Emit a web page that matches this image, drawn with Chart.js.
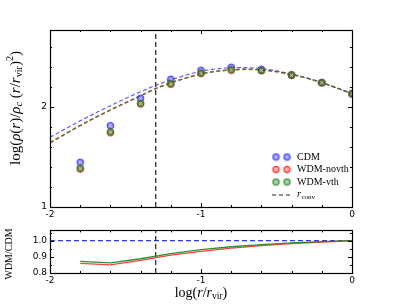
<!DOCTYPE html>
<html>
<head>
<meta charset="utf-8">
<script src="https://cdn.jsdelivr.net/npm/chart.js@4/dist/chart.umd.min.js"></script>
<style>
  html, body { margin: 0; padding: 0; background: #fff; }
  #wrap { position: relative; width: 405px; height: 304px; }
  #top { position: absolute; left: 0; top: 0; }
  #bot { position: absolute; left: 0; top: 222px; }
</style>
</head>
<body>
<div id="wrap">
  <canvas id="top" width="405" height="222"></canvas>
  <canvas id="bot" width="405" height="82"></canvas>
</div>
<script>
// data
var radii = [-1.8, -1.6, -1.4, -1.2, -1.0, -0.8, -0.6, -0.4, -0.2, 0.0];
var cdm_pts   = [1.447, 1.813, 2.087, 2.277, 2.367, 2.397, 2.377, 2.323, 2.243, 2.133];
var novth_pts = [1.380, 1.743, 2.030, 2.228, 2.335, 2.368, 2.362, 2.316, 2.242, 2.132];
var vth_pts   = [1.388, 1.750, 2.036, 2.233, 2.339, 2.372, 2.365, 2.318, 2.243, 2.133];

var fit_r = [-2.0, -1.9, -1.8, -1.7, -1.6, -1.5, -1.4, -1.3, -1.2, -1.1, -1.0,
             -0.9, -0.8, -0.7, -0.6, -0.5, -0.4, -0.3, -0.2, -0.1, 0.0];
var cdm_fit = [1.697, 1.780, 1.862, 1.940, 2.013, 2.085, 2.153, 2.218, 2.272, 2.320, 2.358,
               2.382, 2.393, 2.395, 2.385, 2.362, 2.330, 2.290, 2.245, 2.190, 2.133];
var wdm_fit = [1.643, 1.730, 1.815, 1.895, 1.970, 2.042, 2.113, 2.185, 2.243, 2.290, 2.332,
               2.358, 2.372, 2.378, 2.373, 2.354, 2.326, 2.290, 2.245, 2.190, 2.133];

var ratio_vth   = [0.872, 0.863, 0.888, 0.920, 0.944, 0.962, 0.975, 0.986, 0.994, 1.000];
var ratio_novth = [0.859, 0.850, 0.878, 0.910, 0.934, 0.954, 0.969, 0.981, 0.991, 1.000];
var ratio_ref = 1.0;

var r_conv = -1.3;
var x_ticks = [-2, -1, 0];
var top_y_ticks = [1, 2];
var bot_y_ticks = [0.8, 0.9, 1.0];

var legend_labels = ['CDM', 'WDM-novth', 'WDM-vth'];
var col_blue = 'rgba(40,40,255,0.75)';
var col_red = 'rgba(255,30,30,0.75)';
var col_green = 'rgba(30,130,30,0.85)';

var tickFont = { family: 'DejaVu Sans', size: 9 };
var serif = 'Liberation Serif';

function marker(color) {
  var c = document.createElement('canvas');
  c.width = 9; c.height = 9;
  var g = c.getContext('2d');
  g.beginPath();
  g.arc(4.5, 4.5, 3.3, 0, Math.PI * 2);
  g.fillStyle = color;
  g.globalAlpha = 0.55;
  g.fill();
  g.globalAlpha = 0.9;
  g.lineWidth = 1;
  g.strokeStyle = color;
  g.stroke();
  g.globalAlpha = 1;
  g.beginPath();
  g.moveTo(2.9, 2.9); g.lineTo(6.1, 6.1);
  g.moveTo(6.1, 2.9); g.lineTo(2.9, 6.1);
  g.strokeStyle = 'rgba(255,255,255,0.6)';
  g.lineWidth = 0.9;
  g.stroke();
  return c;
}
var mk_blue = marker('rgb(40,40,255)');
var mk_red = marker('rgb(255,30,30)');
var mk_green = marker('rgb(30,130,30)');

function pts(xs, ys) {
  return xs.map(function (x, i) { return { x: x, y: ys[i] }; });
}

// rich text: segments [text, style] ; style n, i, sub, isub, sup
function drawRich(ctx, segs, cx, cy, size, rot) {
  function font(s) {
    var sz = (s == 'sub' || s == 'isub' || s == 'sup') ? size * 0.68 : size;
    var it = (s == 'i' || s == 'isub') ? 'italic ' : '';
    return it + sz + 'px "' + serif + '"';
  }
  var w = 0;
  segs.forEach(function (sg) { ctx.font = font(sg[1]); w += ctx.measureText(sg[0]).width; });
  ctx.save();
  ctx.translate(cx, cy);
  if (rot) ctx.rotate(-Math.PI / 2);
  ctx.fillStyle = '#000';
  ctx.textBaseline = 'middle';
  ctx.textAlign = 'left';
  var x = -w / 2;
  segs.forEach(function (sg) {
    ctx.font = font(sg[1]);
    var dy = 0;
    if (sg[1] == 'sub' || sg[1] == 'isub') dy = size * 0.25;
    if (sg[1] == 'sup') dy = -size * 0.38;
    ctx.fillText(sg[0], x, dy);
    x += ctx.measureText(sg[0]).width;
  });
  ctx.restore();
}

function framePlugin(cfg) {
  return {
    id: 'frame',
    afterDatasetsDraw: function (chart) {
      var ctx = chart.ctx, a = chart.chartArea;
      var xs = chart.scales.x, ys = chart.scales.y;
      ctx.save();
      ctx.strokeStyle = '#000';
      ctx.lineWidth = 1;
      ctx.beginPath();
      cfg.xMajor.forEach(function (v) {
        var p = Math.round(xs.getPixelForValue(v)) + 0.5;
        ctx.moveTo(p, a.bottom); ctx.lineTo(p, a.bottom - 4);
        ctx.moveTo(p, a.top); ctx.lineTo(p, a.top + 4);
      });
      cfg.xMinor.forEach(function (v) {
        var p = Math.round(xs.getPixelForValue(v)) + 0.5;
        ctx.moveTo(p, a.bottom); ctx.lineTo(p, a.bottom - 2);
        ctx.moveTo(p, a.top); ctx.lineTo(p, a.top + 2);
      });
      cfg.yMajor.forEach(function (v) {
        var p = Math.round(ys.getPixelForValue(v)) + 0.5;
        ctx.moveTo(a.left, p); ctx.lineTo(a.left + 4, p);
        ctx.moveTo(a.right, p); ctx.lineTo(a.right - 4, p);
      });
      cfg.yMinor.forEach(function (v) {
        var p = Math.round(ys.getPixelForValue(v)) + 0.5;
        ctx.moveTo(a.left, p); ctx.lineTo(a.left + 2, p);
        ctx.moveTo(a.right, p); ctx.lineTo(a.right - 2, p);
      });
      ctx.stroke();
      ctx.lineWidth = 1.2;
      ctx.strokeRect(Math.round(a.left) + 0.5, Math.round(a.top) + 0.5,
        Math.round(a.right - a.left), Math.round(a.bottom - a.top));
      ctx.restore();
      if (cfg.draw) cfg.draw(chart);
    }
  };
}

var xMinor = [-1.8, -1.6, -1.4, -1.2, -0.8, -0.6, -0.4, -0.2];

// ---------- top panel ----------
// chart.js paints the first dataset on top, so the list runs top-most first
var topChart = new Chart(document.getElementById('top'), {
  type: 'scatter',
  data: {
    datasets: [
      { data: pts(radii, vth_pts), pointStyle: mk_green, pointRadius: 4.5 },
      { data: pts(radii, novth_pts), pointStyle: mk_red, pointRadius: 4.5 },
      { data: pts(radii, cdm_pts), pointStyle: mk_blue, pointRadius: 4.5 },
      { data: pts([r_conv, r_conv], [1, 2.77]), showLine: true, borderColor: '#222', borderWidth: 1.2,
        borderDash: [5, 3], pointRadius: 0 },
      { data: pts(fit_r, wdm_fit), showLine: true, borderColor: col_green, borderWidth: 1.2,
        borderDash: [4, 2.5], pointRadius: 0 },
      { data: pts(fit_r, wdm_fit), showLine: true, borderColor: col_red, borderWidth: 1.6,
        borderDash: [4, 2.5], pointRadius: 0 },
      { data: pts(fit_r, cdm_fit), showLine: true, borderColor: col_blue, borderWidth: 1.2,
        borderDash: [4, 2.5], pointRadius: 0 }
    ]
  },
  options: {
    responsive: false,
    animation: false,
    layout: { padding: { left: 0, top: 30, right: 53, bottom: 0 } },
    plugins: { legend: { display: false }, tooltip: { enabled: false } },
    scales: {
      x: {
        type: 'linear', min: -2, max: 0,
        grid: { display: false, drawTicks: false }, border: { display: false },
        afterBuildTicks: function (s) { s.ticks = x_ticks.map(function (v) { return { value: v }; }); },
        ticks: { font: tickFont, color: '#000', padding: 2, maxRotation: 0,
                 callback: function (v) { return String(v); } },
        afterFit: function (s) { s.height = 15; }
      },
      y: {
        min: 1, max: 2.77,
        grid: { display: false, drawTicks: false }, border: { display: false },
        afterBuildTicks: function (s) { s.ticks = top_y_ticks.map(function (v) { return { value: v }; }); },
        ticks: { font: tickFont, color: '#000', padding: 3,
                 callback: function (v) { return String(v); } },
        afterFit: function (s) { s.width = 50; }
      }
    }
  },
  plugins: [framePlugin({
    xMajor: x_ticks, xMinor: xMinor,
    yMajor: top_y_ticks, yMinor: [1.2, 1.4, 1.6, 1.8, 2.2, 2.4, 2.6],
    draw: function (chart) {
      var ctx = chart.ctx;
      drawRich(ctx, [['log(', 'n'], ['ρ', 'i'], ['(', 'n'], ['r', 'i'], [')/', 'n'], ['ρ', 'i'], ['c', 'isub'],
        [' (', 'n'], ['r', 'i'], ['/', 'n'], ['r', 'i'], ['vir', 'sub'], [')', 'n'], ['2', 'sup'], [')', 'n']],
        16, 108, 15, true);
      // legend
      var marks = [mk_blue, mk_red, mk_green];
      var ly = [157, 169.5, 182];
      ctx.save();
      for (var i = 0; i < legend_labels.length; i++) {
        ctx.drawImage(marks[i], 276 - 4.5, ly[i] - 4.5);
        ctx.drawImage(marks[i], 287 - 4.5, ly[i] - 4.5);
        ctx.font = '10px "' + serif + '"';
        ctx.fillStyle = '#000';
        ctx.textBaseline = 'middle';
        ctx.fillText(legend_labels[i], 297, ly[i]);
      }
      ctx.strokeStyle = '#222';
      ctx.lineWidth = 1.2;
      ctx.setLineDash([4, 3]);
      ctx.beginPath();
      ctx.moveTo(272, 195); ctx.lineTo(291, 195);
      ctx.stroke();
      ctx.restore();
      ctx.save();
      ctx.textBaseline = 'middle';
      ctx.fillStyle = '#000';
      ctx.font = 'italic 10px "' + serif + '"';
      ctx.fillText('r', 297, 194);
      ctx.font = '7px "' + serif + '"';
      ctx.fillText('conv', 301.5, 197);
      ctx.restore();
    }
  })]
});

// ---------- bottom panel ----------
var botChart = new Chart(document.getElementById('bot'), {
  type: 'scatter',
  data: {
    datasets: [
      { data: pts(radii, ratio_vth), showLine: true, borderColor: 'rgba(30,130,30,0.9)',
        borderWidth: 1.3, pointRadius: 0 },
      { data: pts(radii, ratio_novth), showLine: true, borderColor: 'rgba(255,30,30,0.85)',
        borderWidth: 1.3, pointRadius: 0 },
      { data: pts([r_conv, r_conv], [0.8, 1.063]), showLine: true, borderColor: '#222', borderWidth: 1.2,
        borderDash: [5, 3], pointRadius: 0 },
      { data: pts([-2, 0], [ratio_ref, ratio_ref]), showLine: true, borderColor: 'rgba(30,30,255,0.9)',
        borderWidth: 1.1, borderDash: [5, 3], pointRadius: 0 }
    ]
  },
  options: {
    responsive: false,
    animation: false,
    layout: { padding: { left: 0, top: 5, right: 53, bottom: 0 } },
    plugins: { legend: { display: false }, tooltip: { enabled: false } },
    scales: {
      x: {
        type: 'linear', min: -2, max: 0,
        grid: { display: false, drawTicks: false }, border: { display: false },
        afterBuildTicks: function (s) { s.ticks = x_ticks.map(function (v) { return { value: v }; }); },
        ticks: { font: tickFont, color: '#000', padding: 2, maxRotation: 0,
                 callback: function (v) { return String(v); } },
        afterFit: function (s) { s.height = 31; }
      },
      y: {
        min: 0.8, max: 1.063,
        grid: { display: false, drawTicks: false }, border: { display: false },
        afterBuildTicks: function (s) { s.ticks = bot_y_ticks.map(function (v) { return { value: v }; }); },
        ticks: { font: tickFont, color: '#000', padding: 3,
                 callback: function (v) { return v.toFixed(1); } },
        afterFit: function (s) { s.width = 50; }
      }
    }
  },
  plugins: [framePlugin({
    xMajor: x_ticks, xMinor: xMinor,
    yMajor: bot_y_ticks, yMinor: [0.85, 0.95, 1.05],
    draw: function (chart) {
      var ctx = chart.ctx;
      drawRich(ctx, [['WDM/CDM', 'n']], 9, 32, 10, true);
      drawRich(ctx, [['log(', 'n'], ['r', 'i'], ['/', 'n'], ['r', 'i'], ['vir', 'sub'], [')', 'n']],
        201, 71, 14, false);
    }
  })]
});
</script>
</body>
</html>
